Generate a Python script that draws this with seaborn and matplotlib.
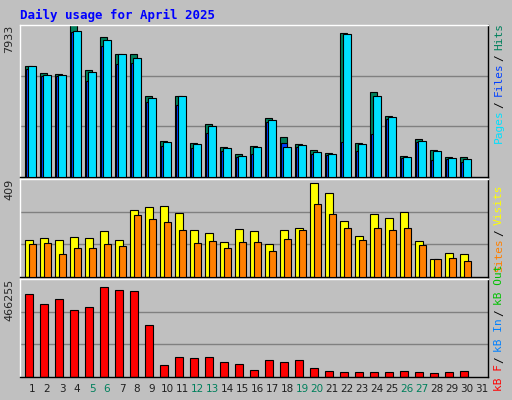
import matplotlib
matplotlib.use("Agg")
import matplotlib.pyplot as plt
import matplotlib.offsetbox as ob
import seaborn as sns
import numpy as np

days = list(range(1, 32))
hits = [5800,5430,5377,7933,5589,7334,6435,6435,4266,1886,4266,1781,2786,1569,1199,1622,3103,2116,1728,1410,1252,7546,1781,4425,3209,1093,1992,1410,1040,1040]
files = [5642,5271,5271,7599,5025,6858,5906,5959,3949,1622,3790,1516,2310,1358,1040,1199,2891,1781,1569,1199,1146,1834,1358,2257,3050,987,1834,882,934,776]
pages = [5800,5324,5324,7651,5483,7175,6435,6223,4161,1834,4214,1728,2680,1516,1093,1569,2997,1587,1675,1305,1199,7493,1728,4266,3156,1040,1886,1358,987,934]
visits = [162,170,162,175,170,200,162,290,302,307,277,204,192,153,209,200,145,204,213,409,366,243,179,273,256,281,158,77,102,98]
sites = [145,149,98,128,128,145,136,268,251,239,204,149,158,128,153,153,111,166,204,315,273,213,162,213,204,213,141,77,81,68]
kbytes = [412390,363490,387940,329260,343930,446620,431950,427060,255910,60310,99430,94540,99430,74980,65200,35860,84760,74980,84760,45640,30970,26080,26080,26080,26080,30970,26080,21190,26080,30970]
weekend = [5, 6, 12, 13, 19, 20, 26, 27]
top_label, mid_label, bot_label = "7933", "409", "466255"

sns.set_style("white")
plt.rcParams['font.family'] = ['DejaVu Sans']
BG = "#C0C0C0"
fig = plt.figure(figsize=(5.12, 4.0), dpi=100, facecolor=BG)
W, H = 512, 400

def mkax(y0, y1):
    ax = fig.add_axes([20 / W, 1 - y1 / H, 468 / W, (y1 - y0) / H])
    ax.set_facecolor(BG)
    ax.set_xlim(0.13, 31.33)
    for s in ax.spines.values():
        s.set_color("black"); s.set_linewidth(1)
    ax.spines['top'].set_color("white"); ax.spines['left'].set_color("white")
    ax.set_xticks([]); ax.set_yticks([])
    return ax

d = np.array(days[:30])
ec = dict(edgecolor="black", linewidth=0.8, align="edge")

ax1 = mkax(25, 177)
ymax1 = 7933 * 1.003
ax1.set_ylim(0, ymax1)
for g in [ymax1 / 3, 2 * ymax1 / 3]:
    ax1.axhline(g, color="#808080", lw=1, zorder=0)
ax1.bar(d - 0.53, hits, width=0.47, color="#00805C", zorder=2, **ec)
ax1.bar(d - 0.45, files, width=0.4, color="#0040FF", zorder=3, **ec)
ax1.bar(d - 0.33, pages, width=0.53, color="#00E0FF", zorder=4, **ec)
ax1.text(-0.012, 1.0, top_label, transform=ax1.transAxes, rotation=90, ha="right", va="top", fontsize=8)

ax2 = mkax(179, 277)
ymax2 = 409 * 1.04
ax2.set_ylim(0, ymax2)
for g in [ymax2 / 3, 2 * ymax2 / 3]:
    ax2.axhline(g, color="#808080", lw=1, zorder=0)
ax2.bar(d - 0.53, visits, width=0.53, color="#FFFF00", zorder=2, **ec)
ax2.bar(d - 0.27, sites, width=0.47, color="#FF8000", zorder=3, **ec)
ax2.text(-0.012, 1.0, mid_label, transform=ax2.transAxes, rotation=90, ha="right", va="top", fontsize=8)

ax3 = mkax(279, 377)
ymax3 = 466255 * 1.04
ax3.set_ylim(0, ymax3)
for g in [ymax3 / 3, 2 * ymax3 / 3]:
    ax3.axhline(g, color="#808080", lw=1, zorder=0)
ax3.bar(d - 0.53, kbytes, width=0.53, color="#FF0000", zorder=2, **ec)
ax3.text(-0.012, 1.0, bot_label, transform=ax3.transAxes, rotation=90, ha="right", va="top", fontsize=8)

for day in days:
    fig.text((20 + (day - 0.13) / 31.2 * 468 - 1) / W, 1 - 389 / H, str(day), ha="center", va="center",
             fontsize=7.5, color="#00805C" if day in weekend else "#202020")

fig.text(20 / W, 1 - 15 / H, "Daily usage for April 2025", color="#0000FF", fontsize=9,
         fontweight="bold", family="DejaVu Sans Mono", va="center")

def rlegend(yc, parts):
    boxes = [ob.TextArea(t, textprops=dict(color=c, rotation=90, fontsize=8, family="DejaVu Sans Mono")) for t, c in parts]
    pk = ob.VPacker(children=boxes[::-1], align="center", pad=0, sep=1)
    ab = ob.AnchoredOffsetbox(loc="center", child=pk, frameon=False, pad=0, borderpad=0,
                              bbox_to_anchor=(499 / W, 1 - yc / H), bbox_transform=fig.transFigure)
    fig.add_artist(ab)

rlegend(83, [("Pages", "#00E0FF"), ("/", "black"), ("Files", "#0040FF"), ("/", "black"), ("Hits", "#00805C")])
rlegend(228, [("Sites", "#FF8000"), ("/", "black"), ("Visits", "#FFFF00")])
rlegend(328, [("kB F", "#FF0000"), ("/", "black"), ("kB In", "#0080FF"), ("/", "black"), ("kB Out", "#00C000")])
fig.savefig("out.png", dpi=100, facecolor=BG)
